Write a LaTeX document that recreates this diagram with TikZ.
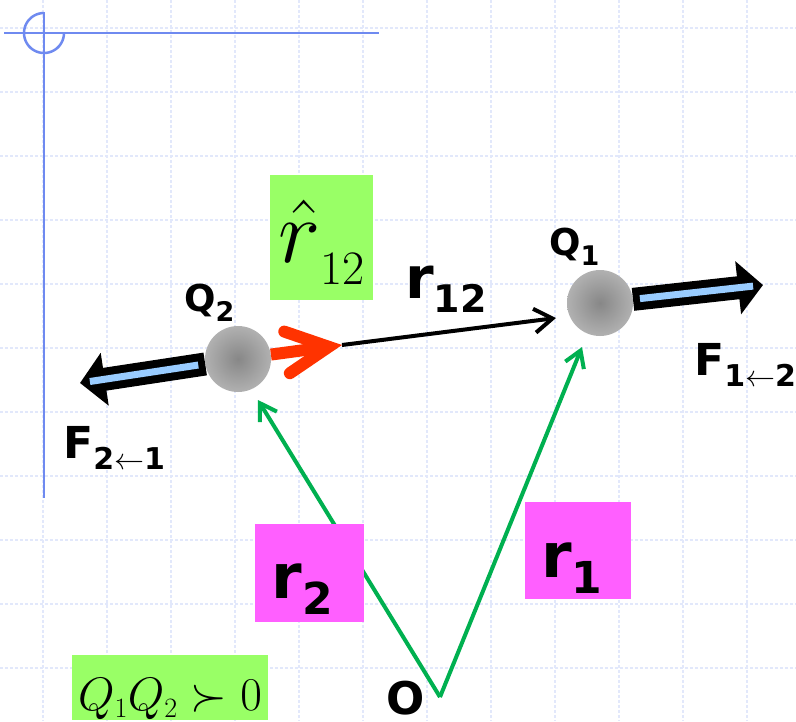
\RequirePackage{fix-cm}
\documentclass[tikz,border=0pt]{standalone}
\usepackage{amsmath,amssymb}
\usepackage{fontspec}
\usepackage{tikz}
\usetikzlibrary{arrows.meta}
\newfontfamily\lblfont{DejaVu Sans}
\definecolor{gridblue}{RGB}{226,232,251}
\definecolor{decoblue}{RGB}{111,138,240}
\definecolor{vecgreen}{RGB}{0,176,80}
\definecolor{vecred}{RGB}{255,51,0}
\definecolor{boxgreen}{RGB}{153,255,102}
\definecolor{boxpink}{RGB}{255,95,255}
\definecolor{fblue}{RGB}{153,204,255}
\definecolor{ballin}{RGB}{135,135,135}
\definecolor{ballmid}{RGB}{185,185,185}
\definecolor{ballout}{RGB}{205,205,205}
\pgfdeclareradialshading{ballshade}{\pgfpoint{0bp}{0bp}}{color(0bp)=(ballin); color(30bp)=(ballmid); color(50bp)=(ballout)}
\newcommand{\bsub}[4]{{\fontsize{#1}{#1}\selectfont #3}{\fontsize{#2}{#2}\selectfont\raisebox{-0.38em}{#4}}}
\newcommand{\msub}[1]{\mbox{\fontsize{28}{28}\selectfont #1}}
\tikzstyle{gridline} = [draw=gridblue, line width=1.3pt, dash pattern=on 3pt off 2pt]
\tikzstyle{deco} = [draw=decoblue, line width=2.5pt]
\tikzstyle{ball} = [circle, minimum size=66pt, inner sep=0pt, shading=ballshade]
\tikzstyle{lbl} = [inner sep=0pt, font=\lblfont\bfseries, anchor=base west]
\tikzstyle{pinkbox} = [fill=boxpink, inner sep=0pt]
\tikzstyle{greenbox} = [fill=boxgreen, inner sep=0pt]
\tikzstyle{vec} = [draw=vecgreen, line width=4pt, -{Straight Barb[length=16pt,width=20pt]}]
\tikzstyle{sepvec} = [draw=black, line width=4pt, -{Straight Barb[length=18pt,width=24pt]}]
\tikzstyle{unitvec} = [draw=vecred, line width=12pt, -{Straight Barb[length=42pt,width=42pt,line cap=round,line join=miter]}]
\tikzstyle{fbody} = [draw=black, line width=23pt, -{Triangle[length=25pt,width=52pt]}]
\tikzstyle{fcore} = [draw=fblue, line width=7pt, shorten <=7pt, shorten >=10pt]

\begin{document}
\begin{tikzpicture}[x=1pt,y=-1pt]
\fill[white] (0,0) rectangle (796,721);
\useasboundingbox (0,0) rectangle (796,721);
\foreach \gx in {43,107,...,747} \draw[gridline] (\gx,0) -- (\gx,721);
\foreach \gy in {28,92,...,668} \draw[gridline] (0,\gy) -- (796,\gy);
\draw[deco] (4,33) -- (379,33);
\draw[deco] (44,12) -- (44,498);
\draw[deco, domain=90:360, samples=40, variable=\t] plot ({44+20*cos(\t)}, {33-20*sin(\t)});

\node (q2) [ball] at (238,359) {};
\node (q1) [ball] at (600,303) {};
\node (q2lbl) [lbl] at (184,311) {\bsub{37}{27}{Q}{2}};
\node (q1lbl) [lbl] at (549,255) {\bsub{37}{27}{Q}{1}};

\coordinate (o) at (440,697);
\coordinate (r2tip) at (258,400);
\coordinate (r1tip) at (582,347);
\coordinate (rhat) at (342,345);
\coordinate (r12tip) at (556,318);
\coordinate (f21tip) at (80,383);
\coordinate (f12tip) at (763,285);

\draw [vec] (o) -- (r2tip);
\draw [vec] (o) -- (r1tip);
\draw [sepvec] (rhat) -- (r12tip);
\draw [unitvec] (q2) -- (rhat);
\draw [fbody] (q2) -- (f21tip);
\draw [fcore] (q2) -- (f21tip);
\draw [fbody] (q1) -- (f12tip);
\draw [fcore] (q1) -- (f12tip);

\node (r12lbl) [lbl] at (405,298) {\bsub{58}{38}{r}{12}};
\node (f21lbl) [lbl] at (63,458) {\bsub{44}{30}{F}{2\(\leftarrow\)1}};
\node (f12lbl) [lbl] at (694,375) {\bsub{44}{30}{F}{1\(\leftarrow\)2}};
\node (olbl) [lbl] at (386,714) {\fontsize{45}{45}\selectfont O};

\node (hatbox) [greenbox, minimum width=103pt, minimum height=125pt, text height=69pt, text depth=20pt] at (321.5,237.5)
  {{\fontsize{90}{90}\selectfont$\hat{r}$}\raisebox{-22pt}{\fontsize{48}{48}\selectfont 12}};
\node (r2box) [pinkbox, minimum width=109pt, minimum height=98pt, text height=60pt, text depth=10pt] at (309.5,573)
  {\lblfont\bfseries\bsub{62}{44}{r}{2}\hspace*{14pt}};
\node (r1box) [pinkbox, minimum width=106pt, minimum height=97pt, text height=60pt, text depth=7pt] at (578,550.5)
  {\lblfont\bfseries\bsub{62}{44}{r}{1}\hspace*{12pt}};
\node (signbox) [greenbox, minimum width=196pt, minimum height=65pt, text height=50pt, text depth=5pt] at (170,687.5)
  {\fontsize{47}{47}\selectfont$Q_{\msub{1}}Q_{\msub{2}}\succ 0$};
\end{tikzpicture}
\end{document}
